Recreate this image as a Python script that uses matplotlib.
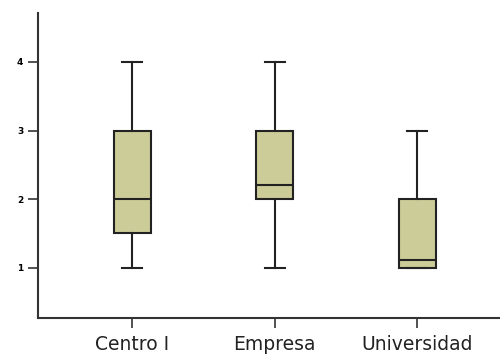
import matplotlib
matplotlib.use("Agg")
import matplotlib.pyplot as plt

# box summaries per group
groups = ["Centro I", "Empresa", "Universidad"]
whislo = [1.0, 1.0, 1.0]
q1 = [1.5, 2.0, 1.0]
med = [2.0, 2.2, 1.12]
q3 = [3.0, 3.0, 2.0]
whishi = [4.0, 4.0, 3.0]
yticks = [1, 2, 3, 4]

stats = []
for i, g in enumerate(groups):
    stats.append({"label": g, "whislo": whislo[i], "q1": q1[i], "med": med[i],
                  "q3": q3[i], "whishi": whishi[i], "fliers": []})

fig = plt.figure(figsize=(5, 3.56), dpi=100)
ax = fig.add_axes([0.076, 0.107, 0.924, 0.856])

ax.bxp(stats, positions=[1, 2, 3], widths=0.26, patch_artist=True, showfliers=False,
       boxprops=dict(facecolor="#cccc99", edgecolor="#222222", linewidth=1.5),
       medianprops=dict(color="#222222", linewidth=1.5),
       whiskerprops=dict(color="#222222", linewidth=1.5),
       capprops=dict(color="#222222", linewidth=1.5),
       capwidths=0.14)

ax.set_xlim(0.34, 3.58)
ax.set_ylim(0.27, 4.71)
ax.set_yticks(yticks)
ax.set_yticklabels([str(t) for t in yticks], fontsize=6.5, fontweight="bold")
ax.set_xticks([1, 2, 3])
ax.set_xticklabels(groups, fontsize=13.5, color="#222222")
ax.tick_params(axis="both", direction="out", length=7, width=1.2, color="#333333")
ax.tick_params(axis="x", pad=5)
for s in ["top", "right"]:
    ax.spines[s].set_visible(False)
for s in ["left", "bottom"]:
    ax.spines[s].set_linewidth(1.5)
    ax.spines[s].set_color("#333333")

fig.savefig("out.png", dpi=100)
